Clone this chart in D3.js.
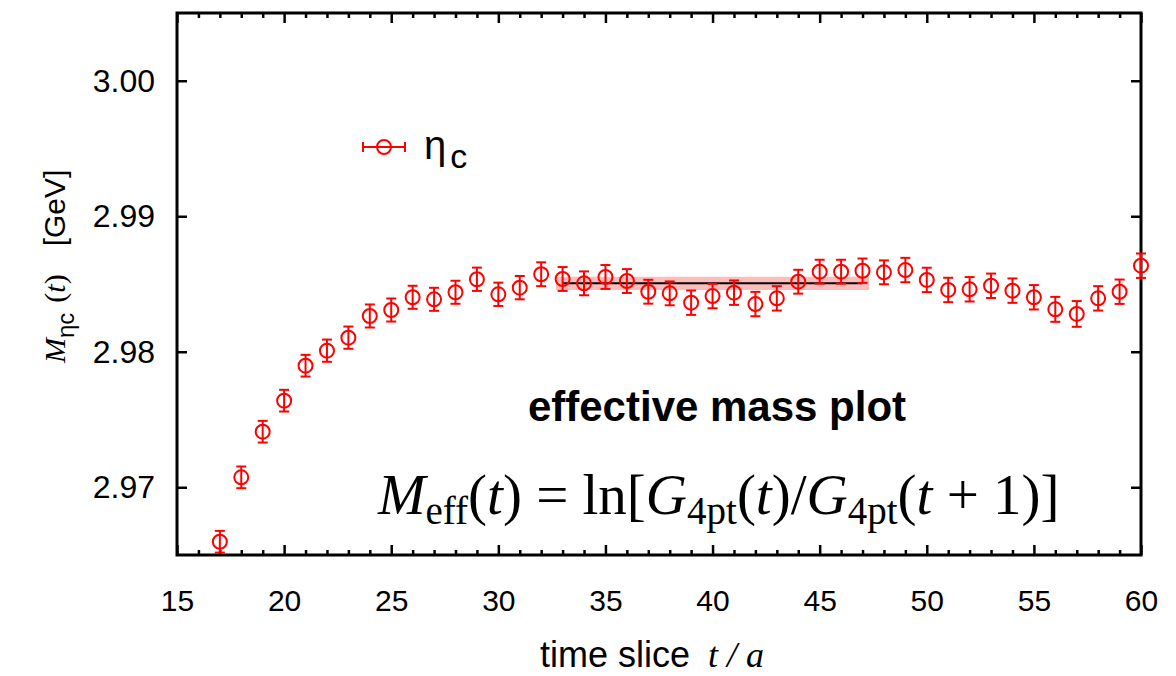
<!DOCTYPE html>
<html lang="en">
  <head>
    <meta charset="UTF-8" />
    <title>effective mass plot</title>
    <script src="https://cdn.jsdelivr.net/npm/d3@7/dist/d3.min.js"></script>
    <style>
      html, body { margin: 0; padding: 0; background: #fff; }
      #svgBox { width: 1176px; height: 676px; display: block; }
      .sans { font-family: 'Liberation Sans', Arial, Helvetica, sans-serif; }
      .serif { font-family: 'Liberation Serif', 'Times New Roman', serif; }
    </style>
  </head>
  <body>
    <svg id="svgBox"></svg>
  </body>
  <script>
    // time slices t/a
    const tSlices = [17, 18, 19, 20, 21, 22, 23, 24, 25, 26, 27, 28, 29, 30, 31, 32, 33, 34, 35, 36,
      37, 38, 39, 40, 41, 42, 43, 44, 45, 46, 47, 48, 49, 50, 51, 52, 53, 54, 55, 56, 57, 58, 59, 60]
    // effective mass [GeV]
    const massValues = [2.96598, 2.97073, 2.97410, 2.97639, 2.97897, 2.98008, 2.98104, 2.98264,
      2.98308, 2.98402, 2.98387, 2.98439, 2.98535, 2.98424, 2.98473, 2.98572, 2.98537, 2.98505,
      2.98552, 2.98522, 2.98443, 2.98431, 2.98362, 2.98411, 2.98436, 2.98352, 2.98394, 2.98517,
      2.98591, 2.98591, 2.98598, 2.98586, 2.98603, 2.98530, 2.98456, 2.98461, 2.98487, 2.98451,
      2.98402, 2.98313, 2.98279, 2.98394, 2.98443, 2.98635]
    const massErrors = [0.00080, 0.00080, 0.00080, 0.00080, 0.00080, 0.00082, 0.00082, 0.00085,
      0.00085, 0.00085, 0.00085, 0.00085, 0.00086, 0.00086, 0.00086, 0.00088, 0.00088, 0.00088,
      0.00088, 0.00088, 0.00088, 0.00088, 0.00090, 0.00090, 0.00090, 0.00090, 0.00090, 0.00088,
      0.00088, 0.00088, 0.00090, 0.00088, 0.00090, 0.00090, 0.00090, 0.00090, 0.00090, 0.00090,
      0.00090, 0.00092, 0.00095, 0.00090, 0.00090, 0.00090]
    // fit result: plateau over t = 33..47
    const fitRange = [33, 47]
    const fitValue = 2.98505
    const fitError = 0.00049

    const xTicks = [15, 20, 25, 30, 35, 40, 45, 50, 55, 60]
    const xMinorTicks = d3.range(16, 60).filter(d => d % 5 !== 0)
    const yTicks = [2.97, 2.98, 2.99, 3.00]

    const data = tSlices.map((t, i) => ({ t, m: massValues[i], e: massErrors[i] }))

    const svg = d3.select('#svgBox')
    const width = 1176
    const height = 676
    const margin = { top: 13, right: 35, bottom: 121, left: 177 }
    const innerWidth = width - margin.left - margin.right
    const innerHeight = height - margin.top - margin.bottom

    const red = '#ff0000'

    // 比例尺
    const xScale = d3.scaleLinear().domain([15, 60]).range([0, innerWidth])
    const yScale = d3.scaleLinear().domain([2.965, 3.005]).range([innerHeight, 0])

    const g = svg.append('g')
      .attr('transform', `translate(${margin.left} ${margin.top})`)

    // fit band + central line
    const bandHalf = yScale(fitValue - fitError) - yScale(fitValue)
    g.append('line')
      .attr('x1', xScale(fitRange[0])).attr('x2', xScale(fitRange[1]))
      .attr('y1', yScale(fitValue)).attr('y2', yScale(fitValue))
      .attr('stroke', '#ffbcbc')
      .attr('stroke-width', bandHalf * 2)
      .attr('stroke-linecap', 'square')
    g.append('line')
      .attr('x1', xScale(fitRange[0])).attr('x2', xScale(fitRange[1]))
      .attr('y1', yScale(fitValue)).attr('y2', yScale(fitValue))
      .attr('stroke', '#000')
      .attr('stroke-width', 2)

    // 坐标轴 (ticks pointing inward, mirrored on top/right)
    const majorLen = 10
    const minorLen = 5
    const xBottom = d3.axisBottom(xScale).tickValues(xTicks).tickSize(-majorLen).tickFormat(d3.format('d')).tickPadding(35)
    const xBottomMinor = d3.axisBottom(xScale).tickValues(xMinorTicks).tickSize(-minorLen)
    const xTop = d3.axisTop(xScale).tickValues(xTicks).tickSize(-majorLen)
    const xTopMinor = d3.axisTop(xScale).tickValues(xMinorTicks).tickSize(-minorLen)
    const yLeft = d3.axisLeft(yScale).tickValues(yTicks).tickSize(-majorLen).tickFormat(d3.format('.2f')).tickPadding(22)
    const yRight = d3.axisRight(yScale).tickValues(yTicks).tickSize(-majorLen)

    function styleAxis(sel, labelled) {
      sel.select('.domain').remove()
      sel.selectAll('.tick line').attr('stroke', '#000').attr('stroke-width', 2.5)
      if (!labelled) {
        sel.selectAll('.tick text').remove()
        return
      }
      sel.selectAll('.tick text')
        .attr('fill', '#000')
        .attr('class', 'sans')
        .style('font-size', '30px')
    }
    g.append('g').attr('transform', `translate(0 ${innerHeight})`).call(xBottom).call(styleAxis, true)
    g.append('g').attr('transform', `translate(0 ${innerHeight})`).call(xBottomMinor).call(styleAxis, false)
    g.append('g').call(xTop).call(styleAxis, false)
    g.append('g').call(xTopMinor).call(styleAxis, false)
    g.append('g').call(yLeft).call(styleAxis, true)
      .selectAll('.tick text').style('font-size', '32px')
    g.append('g').attr('transform', `translate(${innerWidth} 0)`).call(yRight).call(styleAxis, false)

    // frame
    g.append('rect')
      .attr('width', innerWidth).attr('height', innerHeight)
      .attr('fill', 'none').attr('stroke', '#000').attr('stroke-width', 3)

    // error bars + circles
    const capHalf = 5
    const pts = g.append('g').attr('stroke', red).attr('fill', 'none').attr('stroke-width', 2)
    const pt = pts.selectAll('g').data(data).join('g')
    pt.append('line')
      .attr('x1', d => xScale(d.t)).attr('x2', d => xScale(d.t))
      .attr('y1', d => yScale(d.m - d.e)).attr('y2', d => yScale(d.m + d.e))
    pt.append('line')
      .attr('x1', d => xScale(d.t) - capHalf).attr('x2', d => xScale(d.t) + capHalf)
      .attr('y1', d => yScale(d.m + d.e)).attr('y2', d => yScale(d.m + d.e))
    pt.append('line')
      .attr('x1', d => xScale(d.t) - capHalf).attr('x2', d => xScale(d.t) + capHalf)
      .attr('y1', d => yScale(d.m - d.e)).attr('y2', d => yScale(d.m - d.e))
    pt.append('circle')
      .attr('cx', d => xScale(d.t)).attr('cy', d => yScale(d.m))
      .attr('r', 7)

    // 图例
    const lg = svg.append('g').attr('transform', 'translate(384 147)')
      .attr('stroke', red).attr('fill', 'none').attr('stroke-width', 2)
    lg.append('line').attr('x1', -21).attr('x2', 21)
    lg.append('line').attr('x1', -21).attr('x2', -21).attr('y1', -5).attr('y2', 5)
    lg.append('line').attr('x1', 21).attr('x2', 21).attr('y1', -5).attr('y2', 5)
    lg.append('circle').attr('r', 7)
    const lgText = svg.append('text').attr('class', 'sans').attr('x', 424).attr('y', 159)
      .style('font-size', '40px')
    lgText.append('tspan').text('η')
    lgText.append('tspan').attr('dx', 4).attr('dy', 9).style('font-size', '34px').text('c')

    // annotations
    svg.append('text').attr('class', 'sans')
      .attr('x', 717).attr('y', 421)
      .attr('text-anchor', 'middle')
      .style('font-size', '42px').style('font-weight', 'bold')
      .text('effective mass plot')

    const eq = svg.append('text').attr('class', 'serif')
      .attr('x', 378).attr('y', 514)
      .style('font-size', '57px')
    eq.append('tspan').style('font-style', 'italic').text('M')
    eq.append('tspan').attr('dy', 10).style('font-size', '39px').text('eff')
    eq.append('tspan').attr('dy', -10).text('(')
    eq.append('tspan').style('font-style', 'italic').text('t')
    eq.append('tspan').text(') = ln[')
    eq.append('tspan').style('font-style', 'italic').text('G')
    eq.append('tspan').attr('dy', 10).style('font-size', '39px').text('4pt')
    eq.append('tspan').attr('dy', -10).text('(')
    eq.append('tspan').style('font-style', 'italic').text('t')
    eq.append('tspan').text(')/')
    eq.append('tspan').style('font-style', 'italic').text('G')
    eq.append('tspan').attr('dy', 10).style('font-size', '39px').text('4pt')
    eq.append('tspan').attr('dy', -10).text('(')
    eq.append('tspan').style('font-style', 'italic').text('t')
    eq.append('tspan').text('\u00a0+\u00a01)]')

    // axis titles
    const xt = svg.append('text').attr('x', 540).attr('y', 667).style('font-size', '36px')
    xt.append('tspan').attr('class', 'sans').text('time slice')
    xt.append('tspan').attr('class', 'serif').attr('dx', 18).style('font-style', 'italic').text('t\u00a0/\u00a0a')

    const yt = svg.append('text').attr('transform', 'translate(65 363) rotate(-90)').style('font-size', '30px')
    yt.append('tspan').attr('class', 'serif').style('font-style', 'italic').text('M')
    yt.append('tspan').attr('class', 'sans').attr('dy', 9).style('font-size', '24px').text('ηc')
    yt.append('tspan').attr('class', 'serif').attr('dy', -9).attr('dx', 10).text('(')
    yt.append('tspan').attr('class', 'serif').style('font-style', 'italic').text('t')
    yt.append('tspan').attr('class', 'serif').text(')')
    yt.append('tspan').attr('class', 'sans').attr('dx', 28).text('[GeV]')
  </script>
</html>
